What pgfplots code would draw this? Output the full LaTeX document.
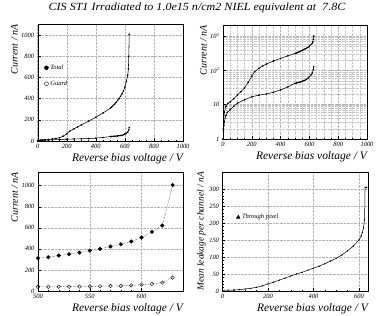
\documentclass[border=0pt]{standalone}
\usepackage{fontspec}
\setmainfont{Liberation Serif}
\usepackage{pgfplots}
\pgfplotsset{compat=1.18}
\usepackage{pgfplotstable}

\pgfplotstableread{
V I
0 1.0
2 2.0
5 4.0
10 6.0
20 9.0
35 11
50 12
75 15
100 19
125 24
150 31
175 45
200 68
220 92
250 115
275 133
300 152
350 187
400 224
450 265
500 310
510 321
520 337
530 349
540 365
550 384
560 400
570 422
580 444
590 470
600 508
610 562
620 622
624 680
627 800
630 1006
}\total

\pgfplotstableread{
V I
0 1.0
3 1.8
6 2.5
10 3.2
20 4.8
30 6.0
50 7.2
75 9.0
100 11
150 14
200 17
250 19
300 20.5
350 23
400 27
450 33
500 42
510 43
520 44
530 45
540 46
550 48
560 50
570 52
580 55
590 59
600 66
610 73
620 84
627 105
630 127
}\guard

\pgfplotstableread{
V I
500 311
510 321
520 337
530 349
540 365
550 384
560 400
570 422
580 444
590 470
600 508
610 562
620 622
630 1006
}\totalz

\pgfplotstableread{
V I
500 40
510 40
520 41
530 41
540 42
550 44
560 45
570 47
580 49
590 53
600 60
610 67
620 80
630 127
}\guardz

\pgfplotstableread{
V I
0 2
25 2.5
50 3
75 4
100 6
125 8
150 11
175 15
200 21
225 26
250 32
275 38
300 44
325 50
350 55
375 61
400 67
425 73
450 80
475 88
500 96
525 106
550 118
575 132
600 150
610 162
615 172
620 185
625 210
627 305
634 305
}\pixel

\pgfplotsset{
  paw/.style={
    scale only axis,
    anchor=south west,
    axis line style={black, line width=0.4pt},
    tick align=inside,
    tick pos=left,
    major tick length=3pt,
    minor tick length=1.5pt,
    every tick/.style={black, line width=0.4pt},
    grid=major,
    major grid style={gray!60, densely dotted, line width=0.45pt},
    ticklabel style={font=\fontsize{6.5}{7}\selectfont\itshape},
    /pgf/number format/assume math mode=true,
    /pgf/number format/1000 sep={},
    xlabel style={font=\fontsize{11.5}{12}\selectfont\itshape, at={(ticklabel cs:1)}, anchor=north east, inner sep=0pt, yshift=-1pt},
    ylabel style={font=\fontsize{10}{11}\selectfont\itshape, at={(ticklabel cs:1)}, anchor=south east, inner sep=0pt},
    xlabel={Reverse bias voltage / V},
    ylabel={Current / nA},
    legend cell align=left,
  }
}

\begin{document}
\begin{tikzpicture}
\path[use as bounding box] (0,0) rectangle (382bp,316bp);
\node[font=\fontsize{11}{12}\selectfont\itshape, xscale=1.1] at (197bp,308bp) {CIS ST1 Irradiated to 1.0e15 n/cm2 NIEL equivalent at \ 7.8C};

% top left
\begin{axis}[paw, at={(37.7bp,175bp)}, width=145.3bp, height=116.6bp,
  xmin=0, xmax=1000, ymin=0, ymax=1100,
  xtick={0,200,400,600,800,1000}, ytick={0,200,400,600,800,1000},
  minor x tick num=3, minor y tick num=3,
  legend style={at={(axis cs:45,740)}, anchor=north west, draw=none, fill=none,
    font=\fontsize{6.5}{7}\selectfont\itshape, row sep=6pt, inner sep=0pt},
  ]
\addlegendimage{only marks, mark=*, mark size=2pt, black}
\addlegendentry{Total}
\addlegendimage{only marks, mark=o, mark size=2pt, black}
\addlegendentry{Guard}
\addplot[black, line width=0.55pt, mark=*, mark size=0.5pt] table[x=V,y=I] {\total};
\addplot[black, line width=0.55pt, mark=*, mark size=0.5pt] table[x=V,y=I] {\guard};
\end{axis}

% top right
\begin{axis}[paw, at={(223bp,177bp)}, width=144bp, height=114bp,
  ymode=log, xmin=0, xmax=1000, ymin=1, ymax=2100,
  xtick={0,200,400,600,800,1000}, minor x tick num=3,
  ytick={1,10,100,1000}, yticklabels={1,10,10\textsuperscript{2},10\textsuperscript{3}},
  grid=both, minor grid style={gray!45, densely dotted, line width=0.3pt},
  ]
\addplot[black, line width=0.55pt, mark=*, mark size=0.5pt] table[x=V,y=I] {\total};
\addplot[black, line width=0.55pt, mark=*, mark size=0.5pt] table[x=V,y=I] {\guard};
\end{axis}

% bottom left
\begin{axis}[paw, at={(38bp,25bp)}, width=145bp, height=119bp,
  xmin=500, xmax=640, ymin=0, ymax=1130,
  xtick={500,550,600}, minor x tick num=4,
  ytick={0,200,400,600,800,1000}, minor y tick num=3,
  ]
\addplot[black, densely dotted, line width=0.4pt, mark=*, mark size=1.8pt, mark options={solid}] table[x=V,y=I] {\totalz};
\addplot[black, densely dotted, line width=0.4pt, mark=o, mark size=1.8pt, mark options={solid}] table[x=V,y=I] {\guardz};
\end{axis}

% bottom right
\begin{axis}[paw, at={(222.5bp,25bp)}, width=145.5bp, height=119bp,
  xmin=0, xmax=640, ymin=0, ymax=350,
  xtick={0,200,400,600}, minor x tick num=3,
  ytick={0,50,100,150,200,250,300}, minor y tick num=4,
  ylabel={Mean leakage per channel / nA},
  ylabel style={font=\fontsize{9.5}{10}\selectfont\itshape},
  legend style={at={(axis cs:60,232)}, anchor=north west, draw=none, fill=none,
    font=\fontsize{6.5}{7}\selectfont\itshape, inner sep=0pt},
  ]
\addlegendimage{only marks, mark=triangle*, mark size=2.2pt, black}
\addlegendentry{Through pixel}
\addplot[black, line width=0.5pt, mark=*, mark size=0.35pt] table[x=V,y=I] {\pixel};
\end{axis}
\end{tikzpicture}
\end{document}
